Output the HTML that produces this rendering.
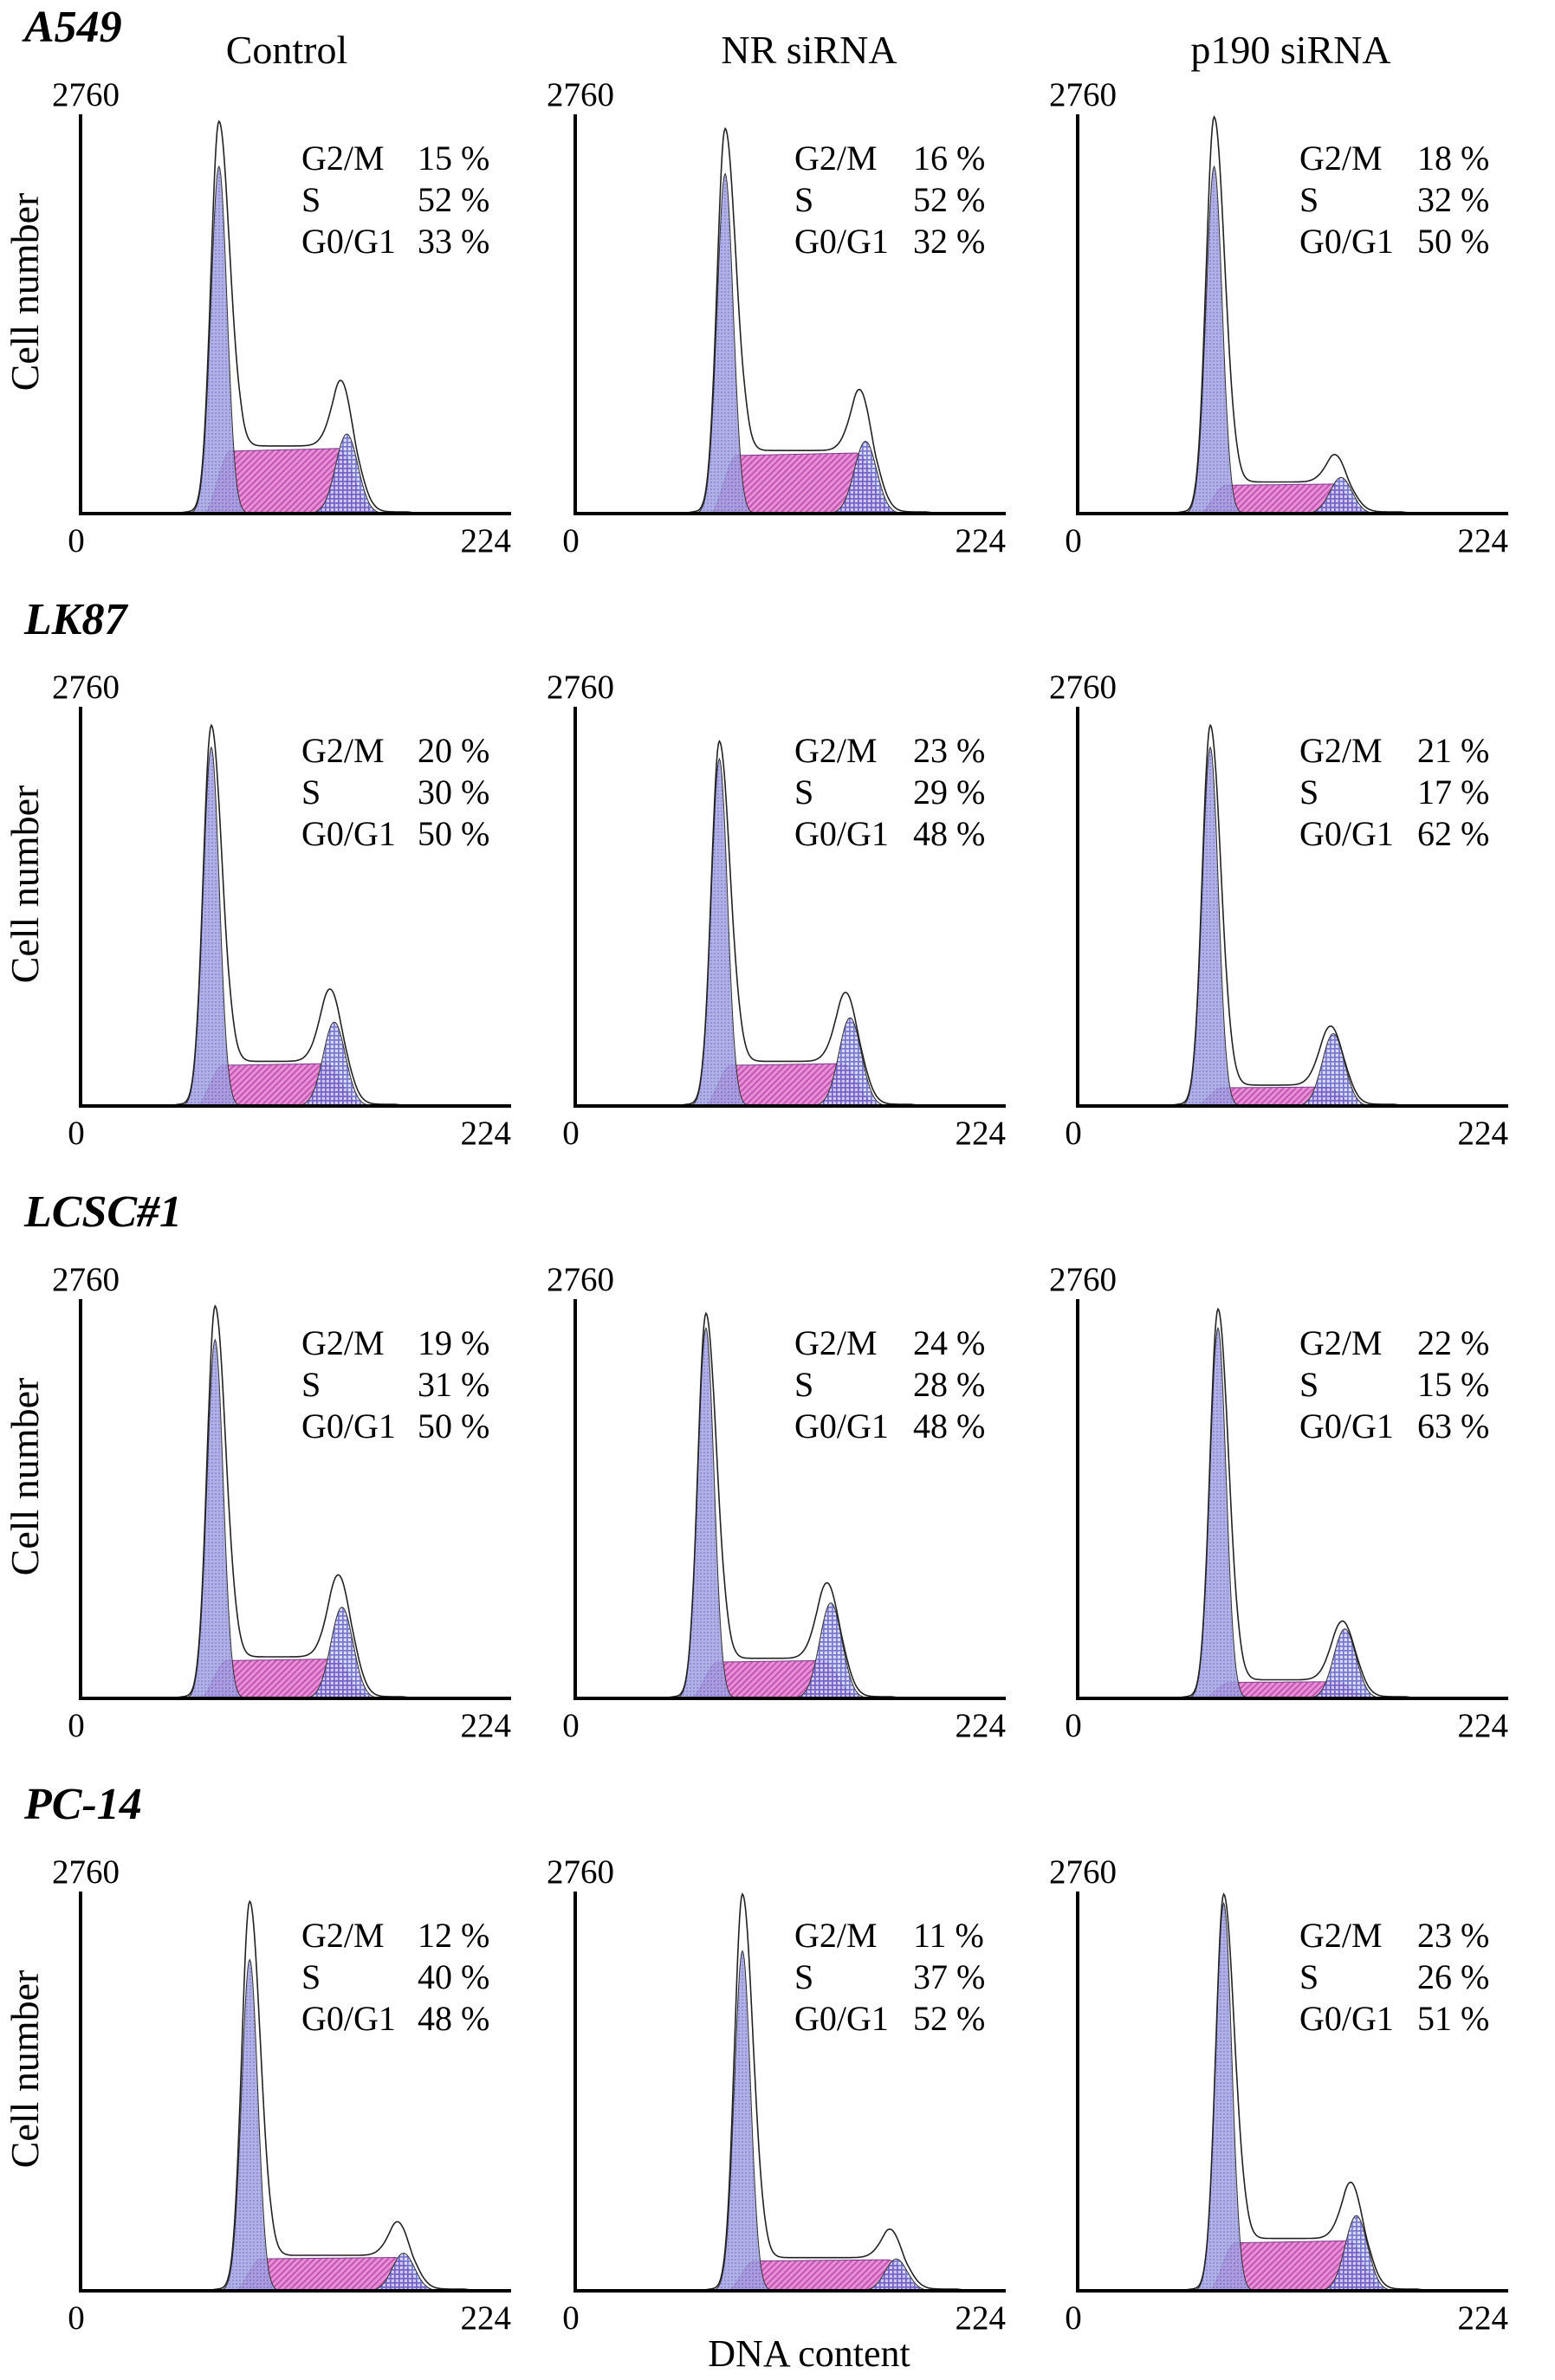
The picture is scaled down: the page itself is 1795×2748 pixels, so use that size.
<!DOCTYPE html>
<html><head><meta charset="utf-8"><title>Cell cycle flow cytometry histograms</title>
<style>
html,body{margin:0;padding:0;background:#fff;}
svg text{font-family:"Liberation Serif","Times New Roman",serif;fill:#000;}
</style></head>
<body>
<svg id="fig" xmlns="http://www.w3.org/2000/svg" width="1795" height="2743" viewBox="0 0 1795 2743" font-family="Liberation Serif, serif">
<defs>
<pattern id="patG1" patternUnits="userSpaceOnUse" width="4" height="4">
<rect width="4" height="4" fill="#a2a2e2"/><rect width="2" height="2" fill="#7f7fd0"/></pattern>
<pattern id="patS" patternUnits="userSpaceOnUse" width="5" height="5" patternTransform="rotate(45)">
<rect width="5" height="5" fill="#e890d6"/><rect width="2" height="5" fill="#c455b2"/></pattern>
<pattern id="patG2" patternUnits="userSpaceOnUse" width="5" height="5">
<rect width="5" height="5" fill="#d4d4f4"/><rect width="5" height="1.7" fill="#5f5fc8"/><rect width="1.7" height="5" fill="#5f5fc8"/></pattern>
</defs>
<g id="content"></g>
</svg>
<script>
// ---- Chart data (12 panels, row-major: A549, LK87, LCSC#1, PC-14 × Control, NR siRNA, p190 siRNA)
const rowLabels = ["A549", "LK87", "LCSC#1", "PC-14"];
const colLabels = ["Control", "NR siRNA", "p190 siRNA"];
const yMaxLabel = "2760";
const xMaxLabel = "224";
const xMin = 0, xMax = 224, yMax = 2760;
const g2mPct = [15, 16, 18, 20, 23, 21, 19, 24, 22, 12, 11, 23];
const sPct   = [52, 52, 32, 30, 29, 17, 31, 28, 15, 40, 37, 26];
const g1Pct  = [33, 32, 50, 50, 48, 62, 50, 48, 63, 48, 52, 51];
// G0/G1 peak channel, fitted fill height, raw outline height (counts)
const g1Mean    = [72, 78, 71, 68, 75, 69, 70, 68, 73, 88, 87, 76];
const g1Fill    = [2400, 2350, 2400, 2480, 2400, 2480, 2480, 2560, 2560, 2290, 2350, 2680];
const g1Outline = [2700, 2650, 2730, 2620, 2510, 2620, 2700, 2650, 2680, 2680, 2730, 2730];
// S-phase plateau level (counts)
const sLevel    = [430, 400, 195, 280, 280, 125, 260, 250, 110, 220, 205, 330];
// G2/M peak channel, fitted fill height, raw outline height
const g2Mean    = [138.5, 151, 137, 132, 143, 133, 136, 133, 139, 168, 167, 145];
const g2Fill    = [550, 500, 250, 580, 610, 500, 630, 660, 480, 260, 220, 520];
const g2Outline = [800, 745, 345, 745, 720, 525, 800, 745, 510, 410, 360, 660];

// ---- Layout
const colAxisX  = [93, 664, 1244];
const titleX = [331, 934, 1490];
const plotW = 497, plotH = 461;
const rowBottom0 = 593, rowStep = 684;
const statX = [[255, 389], [253, 390], [256, 392]];
const svgNS = "http://www.w3.org/2000/svg";
const root = document.getElementById("content");

function mk(tag, attrs, parent) {
  const e = document.createElementNS(svgNS, tag);
  for (const k in attrs) e.setAttribute(k, attrs[k]);
  (parent || root).appendChild(e);
  return e;
}
function txt(str, attrs, parent) { attrs["font-family"] = "Liberation Serif, serif"; const t = mk("text", attrs, parent); t.textContent = str; return t; }
function gauss(x, m, s) { return Math.exp(-0.5 * ((x - m) / s) * ((x - m) / s)); }
function smooth(t) { t = Math.max(0, Math.min(1, t)); return t * t * (3 - 2 * t); }

colLabels.forEach((c, j) => {
  const t = txt(c, {x: titleX[j], y: 73, "font-size": 46, "text-anchor": "middle"});
  
  
});
{
  const t = txt("DNA content", {x: 934, y: 2732, "font-size": 44, "text-anchor": "middle"});
  
  
}

rowLabels.forEach((rl, i) => {
  const bottom = rowBottom0 + i * rowStep;
  const top = bottom - plotH;
  const lab = txt(rl, {x: 28, y: 48 + i * rowStep, "font-size": 52, "font-weight": "bold", "font-style": "italic"});
  
  
  const yl = txt("Cell number", {x: 0, y: 0, "font-size": 46, "text-anchor": "middle", transform: "translate(44," + (top + 205) + ") rotate(-90)"});
  
  

  colLabels.forEach((cl, j) => {
    const k = i * 3 + j;
    const ox = colAxisX[j];
    const g = mk("g", {});
    
    
    const xs = ch => ox + (ch - xMin) / (xMax - xMin) * plotW;
    const ys = v => bottom - v / yMax * plotH;
    const s1 = 4.2, s2 = 5.8;
    const sFn = x => sLevel[k] * smooth((x - (g1Mean[k] - 8)) / 14) *
                 (x < g2Mean[k] - 4 ? 1 + 0.05 * (x - g1Mean[k]) / (g2Mean[k] - g1Mean[k]) : 1.04 * gauss(x, g2Mean[k] - 4, 7));
    const g1Fn = x => g1Fill[k] * gauss(x, g1Mean[k], s1);
    const g2Fn = x => g2Fill[k] * gauss(x, g2Mean[k], s2);
    const sPlat = x => sLevel[k] * smooth((x - g1Mean[k]) / 12) * (1 - smooth((x - g2Mean[k] + 6) / 12));
    const outFn = x => g1Outline[k] * gauss(x, g1Mean[k], x < g1Mean[k] ? s1 : s1 * 1.3)
        + 1.06 * sPlat(x)
        + (g2Outline[k] - 0.5 * sLevel[k]) * gauss(x, g2Mean[k], s2 * 1.1)
        + 12 * smooth((x - g1Mean[k] + 25) / 10) * (1 - smooth((x - g2Mean[k] - 30) / 10));
    function areaPath(fn, a, b) {
      let d = "M" + xs(a).toFixed(1) + "," + ys(0).toFixed(1);
      for (let x = a; x <= b; x += 0.5) d += "L" + xs(x).toFixed(1) + "," + ys(fn(x)).toFixed(1);
      return d + "L" + xs(b).toFixed(1) + "," + ys(0).toFixed(1) + "Z";
    }
    const sp = mk("path", {d: areaPath(sFn, g1Mean[k] - 9, g2Mean[k] + 14), fill: "url(#patS)", stroke: "#7a3a8a", "stroke-width": 1}, g);
    
    
    const p1 = mk("path", {d: areaPath(g1Fn, g1Mean[k] - 14, g1Mean[k] + 14), fill: "url(#patG1)", "fill-opacity": 0.85, stroke: "#333", "stroke-width": 1}, g);
    
    
    const p2 = mk("path", {d: areaPath(g2Fn, g2Mean[k] - 17, g2Mean[k] + 17), fill: "url(#patG2)", "fill-opacity": 0.85, stroke: "#333", "stroke-width": 1}, g);
    
    
    let d = "";
    for (let x = g1Mean[k] - 40; x <= g2Mean[k] + 50; x += 0.5) d += (d ? "L" : "M") + xs(x).toFixed(1) + "," + ys(outFn(x)).toFixed(1);
    const ol = mk("path", {d: d, fill: "none", stroke: "#222", "stroke-width": 1.6}, g);
    
    
    const ax = mk("path", {d: "M" + ox + "," + top + "L" + ox + "," + bottom + "L" + (ox + plotW) + "," + bottom, fill: "none", stroke: "#000", "stroke-width": 4}, g);
    
    
    const t1 = txt(yMaxLabel, {x: ox - 33, y: top - 10, "font-size": 39}, g);
    
    
    const t2 = txt("0", {x: ox - 5, y: bottom + 44, "font-size": 39, "text-anchor": "middle"}, g);
    
    
    const t3 = txt(xMaxLabel, {x: ox + plotW, y: bottom + 44, "font-size": 39, "text-anchor": "end"}, g);
    
    
    const names = ["G2/M", "S", "G0/G1"], vals = [g2mPct[k], sPct[k], g1Pct[k]];
    names.forEach((n, r) => {
      const by = top + 64 + r * 48;
      const a = txt(n, {x: ox + statX[j][0], y: by, "font-size": 40}, g);
      
      
      const b = txt(vals[r] + " %", {x: ox + statX[j][1], y: by, "font-size": 40}, g);
      
      
    });
  });
});
</script>
</body></html>
